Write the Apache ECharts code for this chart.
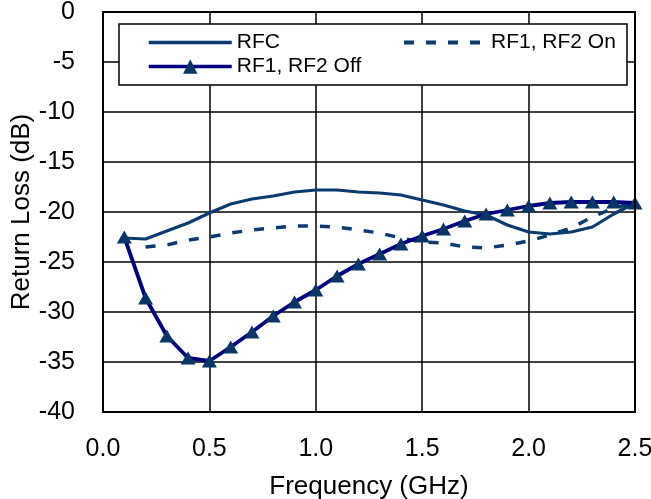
<!DOCTYPE html>
<html>
<head>
<meta charset="utf-8">
<script src="https://cdn.jsdelivr.net/npm/echarts@6/dist/echarts.min.js"></script>
<style>
html,body{margin:0;padding:0;background:#fff;}
#c{width:651px;height:499px;}
</style>
</head>
<body>
<div id="c"></div>
<script>
const freqs = [0.1,0.2,0.3,0.4,0.5,0.6,0.7,0.8,0.9,1.0,1.1,1.2,1.3,1.4,1.5,1.6,1.7,1.8,1.9,2.0,2.1,2.2,2.3,2.4,2.5];
const rfc   = [-22.6,-22.7,-21.9,-21.1,-20.1,-19.2,-18.7,-18.4,-18.0,-17.8,-17.8,-18.0,-18.1,-18.3,-18.8,-19.3,-19.9,-20.3,-21.3,-22.0,-22.2,-22.0,-21.5,-20.2,-19.1];
const rfOn  = [null,-23.5,-23.3,-22.8,-22.5,-22.1,-21.8,-21.6,-21.4,-21.4,-21.5,-21.8,-22.1,-22.6,-23.0,-23.1,-23.5,-23.6,-23.3,-22.9,-22.3,-21.6,-20.5,-19.6,-19.1];
const rfOff = [-22.5,-28.6,-32.4,-34.6,-34.9,-33.5,-32.0,-30.4,-29.0,-27.8,-26.4,-25.2,-24.2,-23.2,-22.4,-21.7,-20.9,-20.2,-19.8,-19.4,-19.1,-19.0,-19.0,-19.0,-19.1];
const xTicks = [0,0.5,1.0,1.5,2.0,2.5];
const yTicks = [0,-5,-10,-15,-20,-25,-30,-35,-40];

const pair = (arr) => freqs.map((f,i) => arr[i] === null ? null : [f, arr[i]]).filter(p => p);

const chart = echarts.init(document.getElementById('c'), null, {renderer:'canvas'});
const font = 'Liberation Sans, Arial, Helvetica, sans-serif';
chart.setOption({
  animation: false,
  backgroundColor: '#fff',
  textStyle: {fontFamily: font},
  grid: {left: 103, right: 16, top: 12, bottom: 87, containLabel: false, outerBoundsMode: 'none'},
  xAxis: {
    type: 'value', min: xTicks[0], max: xTicks[xTicks.length-1], interval: 0.5,
    name: 'Frequency (GHz)', nameLocation: 'middle', nameGap: 62, nameMoveOverlap: false,
    nameTextStyle: {fontSize: 26, color: '#000', fontFamily: font},
    axisLine: {show: true, lineStyle: {color: '#000', width: 2}},
    axisTick: {show: false},
    axisLabel: {fontSize: 25, color: '#000', margin: 25, fontFamily: font,
      formatter: v => v.toFixed(1)},
    splitLine: {show: true, lineStyle: {color: '#000', width: 1.5}}
  },
  yAxis: {
    type: 'value', min: yTicks[yTicks.length-1], max: yTicks[0], interval: 5,
    name: 'Return Loss (dB)', nameLocation: 'middle', nameGap: 68, nameMoveOverlap: false,
    nameTextStyle: {fontSize: 26, color: '#000', fontFamily: font},
    axisLine: {show: true, lineStyle: {color: '#000', width: 2}},
    axisTick: {show: false},
    axisLabel: {fontSize: 25, color: '#000', margin: 28, fontFamily: font},
    splitLine: {show: true, lineStyle: {color: '#000', width: 1.5}}
  },
  graphic: [
    {type: 'rect', z: 5, shape: {x: 119, y: 24, width: 508, height: 61},
     style: {fill: '#fff', stroke: '#000', lineWidth: 1.5}},
    {type: 'rect', z: 5, shape: {x: 103, y: 12, width: 532, height: 400},
     style: {fill: 'none', stroke: '#000', lineWidth: 2}}
  ],
  legend: [
    {data: [{name: 'RFC', itemStyle: {opacity: 0}}, 'RF1, RF2 Off'], orient: 'vertical', left: 142, top: 27,
     itemWidth: 83, itemHeight: 18, itemGap: 3, z: 10,
     lineStyle: {width: 3.5},
     textStyle: {fontSize: 21, color: '#000', fontFamily: font}},
    {data: [{name: 'RF1, RF2 On', itemStyle: {opacity: 0}}], orient: 'vertical', left: 397, top: 27,
     itemWidth: 82, itemHeight: 18, z: 10,
     lineStyle: {width: 4},
     textStyle: {fontSize: 21, color: '#000', fontFamily: font}}
  ],
  series: [
    {name: 'RFC', type: 'line', data: pair(rfc), showSymbol: false, symbol: 'none',
     lineStyle: {color: '#0a3a6e', width: 3.2}, itemStyle: {color: '#0a3a6e'}, z: 3},
    {name: 'RF1, RF2 On', type: 'line', data: pair(rfOn), showSymbol: false, symbol: 'none',
     lineStyle: {color: '#0a3a6e', width: 3.5, type: [10, 12]}, itemStyle: {color: '#0a3a6e'}, z: 3},
    {name: 'RF1, RF2 Off', type: 'line', data: pair(rfOff), symbol: 'triangle', symbolSize: [15, 13],
     lineStyle: {color: '#000080', width: 3.8}, itemStyle: {color: '#063566'}, z: 4}
  ]
});
</script>
</body>
</html>
